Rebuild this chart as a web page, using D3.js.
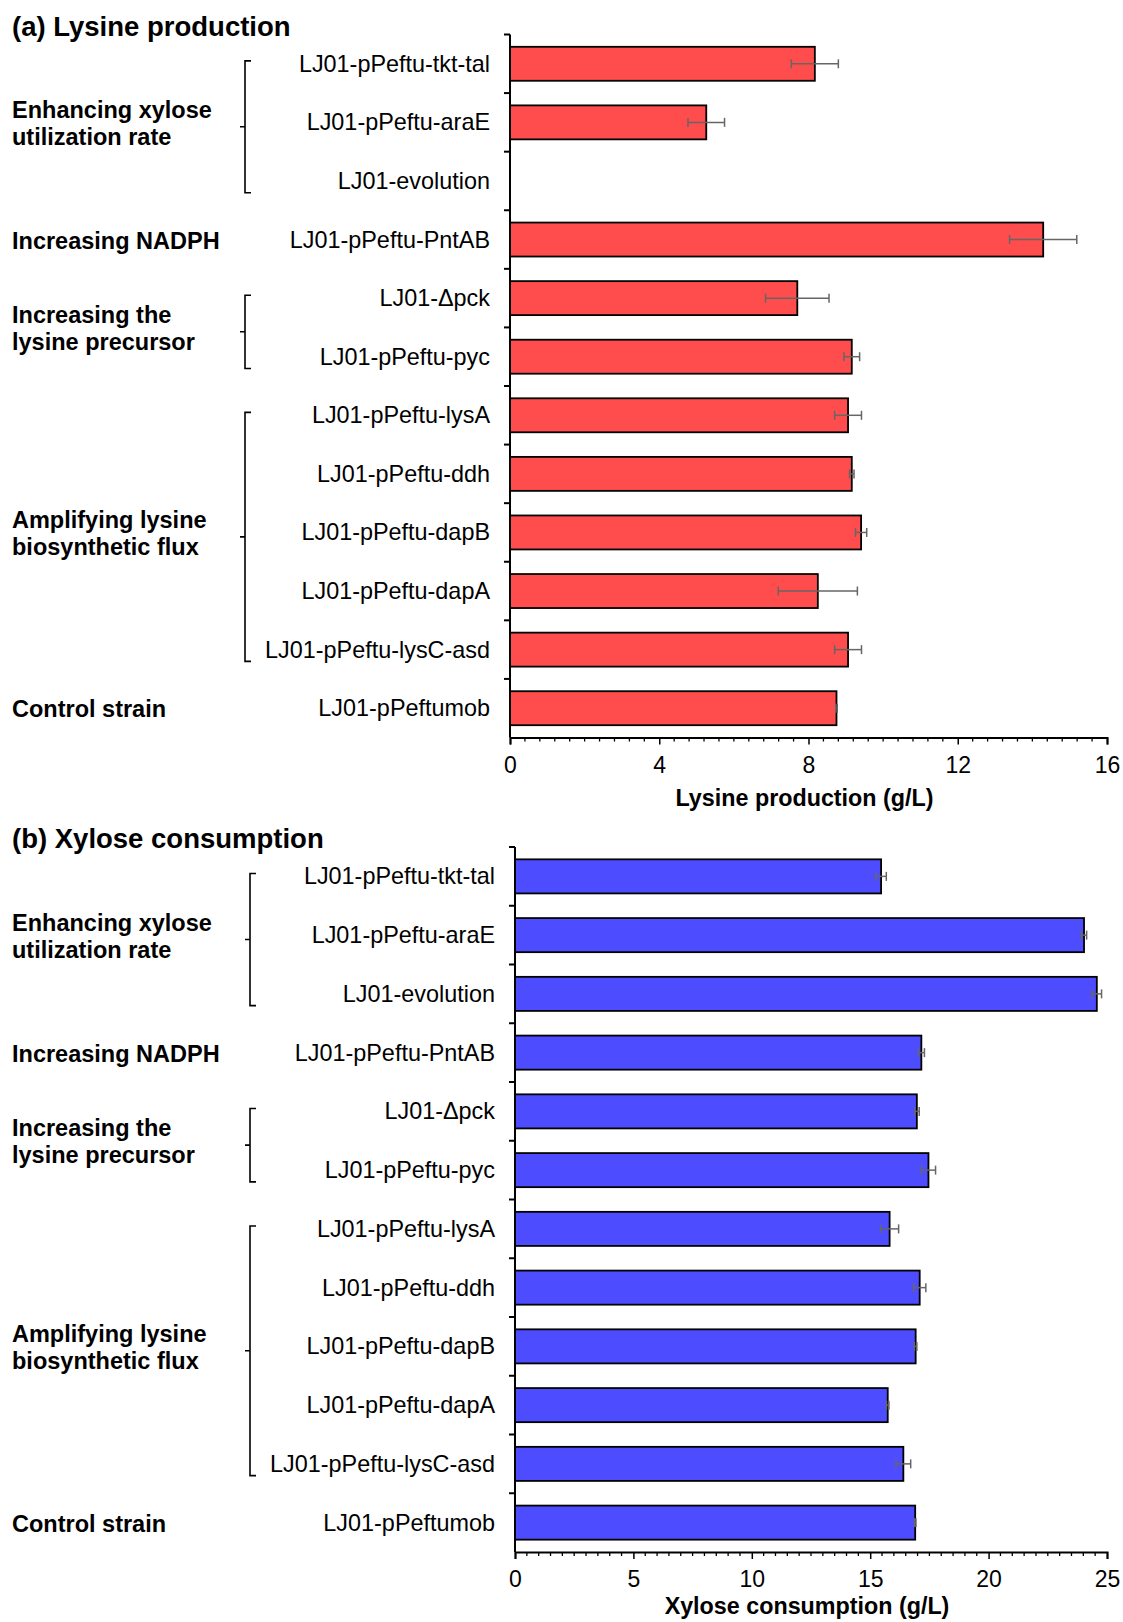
<!DOCTYPE html>
<html>
<head>
<meta charset="utf-8">
<script src="https://cdn.jsdelivr.net/npm/d3@7"></script>
<style>
  html, body { margin: 0; padding: 0; background: #fff; }
  svg { display: block; font-family: "Liberation Sans", Arial, sans-serif; }
</style>
</head>
<body>
<svg id="chart" width="1123" height="1622"></svg>
<script>
// Strains, top to bottom
const categories = [
  "LJ01-pPeftu-tkt-tal", "LJ01-pPeftu-araE", "LJ01-evolution", "LJ01-pPeftu-PntAB",
  "LJ01-Δpck", "LJ01-pPeftu-pyc", "LJ01-pPeftu-lysA", "LJ01-pPeftu-ddh",
  "LJ01-pPeftu-dapB", "LJ01-pPeftu-dapA", "LJ01-pPeftu-lysC-asd", "LJ01-pPeftumob"
];

// (a) Lysine production, g/L (no value measured for LJ01-evolution)
const lysine    = [8.17, 5.26, null, 14.29, 7.70, 9.16, 9.06, 9.16, 9.41, 8.25, 9.06, 8.75];
const lysineErr = [0.63, 0.49, null, 0.90, 0.85, 0.21, 0.36, 0.06, 0.15, 1.06, 0.36, 0.02];

// (b) Xylose consumption, g/L
const xylose    = [15.46, 24.03, 24.57, 17.16, 16.97, 17.46, 15.82, 17.09, 16.92, 15.74, 16.40, 16.90];
const xyloseErr = [0.22, 0.11, 0.20, 0.13, 0.10, 0.30, 0.38, 0.26, 0.05, 0.05, 0.31, 0.03];

// Strategy groups (first and last strain index of each)
const groupNames = [
  ["Enhancing xylose", "utilization rate"],
  ["Increasing NADPH"],
  ["Increasing the", "lysine precursor"],
  ["Amplifying lysine", "biosynthetic flux"],
  ["Control strain"]
];
const groupStart = [0, 3, 4, 6, 11];
const groupEnd   = [2, 3, 5, 10, 11];

// Axis ticks
const lysineTicks = [0, 4, 8, 12, 16];
const xyloseTicks = [0, 5, 10, 15, 20, 25];

const svg = d3.select("#chart");

function drawPanel(opts) {
  const g = svg.append("g");
  const y = d3.scaleBand().domain(categories).range([opts.top, opts.bottom]).paddingInner(0.42).paddingOuter(0.21);
  const x = d3.scaleLinear().domain([0, opts.max]).range([opts.left, opts.right]);
  const band = (opts.bottom - opts.top) / categories.length;
  const center = i => y(categories[i]) + y.bandwidth() / 2;

  // Panel title
  g.append("text")
    .attr("x", 12).attr("y", opts.titleY)
    .attr("font-size", 27.5).attr("font-weight", "bold")
    .attr("dominant-baseline", "central")
    .text(opts.title);

  // Bars
  const rows = categories.map((c, i) => ({ c, v: opts.values[i], e: opts.errs[i] }))
    .filter(d => d.v != null);

  g.selectAll("rect.bar").data(rows).join("rect")
    .attr("class", "bar")
    .attr("x", x(0))
    .attr("y", d => y(d.c))
    .attr("width", d => x(d.v) - x(0))
    .attr("height", y.bandwidth())
    .attr("fill", opts.color)
    .attr("stroke", "#000")
    .attr("stroke-width", 1.8);

  // Error bars
  const eg = g.selectAll("g.err").data(rows.filter(d => d.e != null)).join("g")
    .attr("class", "err")
    .attr("stroke", "#666").attr("stroke-width", 1.5);
  eg.append("line")
    .attr("x1", d => x(d.v - d.e)).attr("x2", d => x(d.v + d.e))
    .attr("y1", d => y(d.c) + y.bandwidth() / 2).attr("y2", d => y(d.c) + y.bandwidth() / 2);
  [-1, 1].forEach(s => {
    eg.append("line")
      .attr("x1", d => x(d.v + s * d.e)).attr("x2", d => x(d.v + s * d.e))
      .attr("y1", d => y(d.c) + y.bandwidth() / 2 - 4.5)
      .attr("y2", d => y(d.c) + y.bandwidth() / 2 + 4.5);
  });

  // Category axis: line with ticks at band boundaries
  const bounds = d3.range(categories.length + 1).map(i => opts.top + i * band);
  g.append("line")
    .attr("x1", x(0)).attr("x2", x(0))
    .attr("y1", opts.top).attr("y2", opts.bottom)
    .attr("stroke", "#000").attr("stroke-width", 2);
  g.selectAll("line.ytick").data(bounds.slice(0, -1)).join("line")
    .attr("class", "ytick")
    .attr("x1", x(0) - 6).attr("x2", x(0))
    .attr("y1", d => d).attr("y2", d => d)
    .attr("stroke", "#000").attr("stroke-width", 2);

  // Strain labels
  g.selectAll("text.cat").data(categories).join("text")
    .attr("class", "cat")
    .attr("x", x(0) - 20)
    .attr("y", d => y(d) + y.bandwidth() / 2)
    .attr("text-anchor", "end")
    .attr("dominant-baseline", "central")
    .attr("font-size", 23.4)
    .text(d => d);

  // Value axis
  const xAxis = d3.axisBottom(x).tickValues(opts.ticks).tickSize(7).tickPadding(12).tickFormat(d3.format("d"));
  const ax = g.append("g").attr("transform", `translate(0,${opts.bottom})`).call(xAxis);
  ax.select(".domain").attr("stroke-width", 2);
  ax.selectAll(".tick line").attr("stroke-width", 1.5);
  ax.selectAll(".tick text").attr("font-size", 23).attr("font-family", "Liberation Sans, Arial, sans-serif").attr("fill", "#000");
  const minor = d3.range(0, opts.max + 1e-9, opts.minorStep).filter(v => !opts.ticks.some(t => Math.abs(t - v) < 1e-9));
  g.selectAll("line.minor").data(minor).join("line")
    .attr("class", "minor")
    .attr("x1", d => x(d)).attr("x2", d => x(d))
    .attr("y1", opts.bottom).attr("y2", opts.bottom + 4)
    .attr("stroke", "#000").attr("stroke-width", 1.3);

  g.append("text")
    .attr("x", (x(0) + x(opts.max)) / 2 - 4)
    .attr("y", opts.bottom + opts.axisTitleGap)
    .attr("text-anchor", "middle")
    .attr("dominant-baseline", "central")
    .attr("font-size", 23.3).attr("font-weight", "bold")
    .text(opts.axisTitle);

  // Strategy group labels and brackets
  groupNames.forEach((lines, gi) => {
    const c0 = center(groupStart[gi]), c1 = center(groupEnd[gi]);
    const mid = (c0 + c1) / 2;
    const lh = 27;
    lines.forEach((ln, li) => {
      g.append("text")
        .attr("x", 12)
        .attr("y", mid + (li - (lines.length - 1) / 2) * lh + 1)
        .attr("dominant-baseline", "central")
        .attr("font-size", 23.5).attr("font-weight", "bold")
        .text(ln);
    });
    if (groupEnd[gi] > groupStart[gi]) {
      const bx = x(0) - 265;
      const t = c0 - 0.05 * band, b = c1 + 0.2 * band, m = (t + b) / 2;
      g.append("path")
        .attr("d", `M${bx + 6},${t} H${bx} V${b} H${bx + 6} M${bx},${m} H${bx - 5}`)
        .attr("fill", "none").attr("stroke", "#000").attr("stroke-width", 1.6);
    }
  });
}

drawPanel({
  title: "(a) Lysine production", titleY: 26,
  axisTitle: "Lysine production (g/L)", axisTitleGap: 60,
  values: lysine, errs: lysineErr, color: "#ff4d4d",
  top: 34.5, bottom: 737.5, left: 510, right: 1107,
  max: 16, ticks: lysineTicks, minorStep: 0.4
});

drawPanel({
  title: "(b) Xylose consumption", titleY: 838,
  axisTitle: "Xylose consumption (g/L)", axisTitleGap: 54,
  values: xylose, errs: xyloseErr, color: "#4d4dff",
  top: 847, bottom: 1552, left: 515, right: 1107,
  max: 25, ticks: xyloseTicks, minorStep: 0.5
});
</script>
</body>
</html>
